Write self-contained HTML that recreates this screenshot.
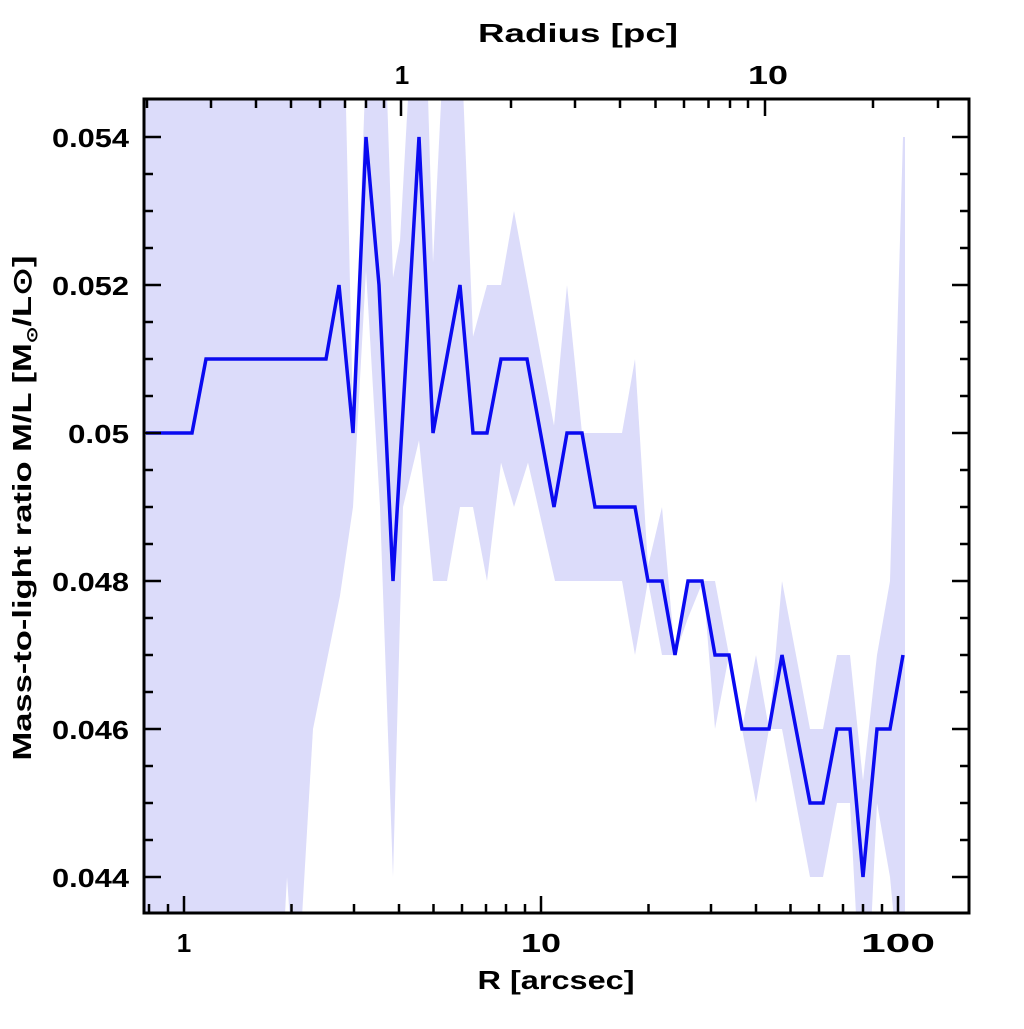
<!DOCTYPE html>
<html><head><style>
body{margin:0;background:#fff;}
svg text{font-family:"Liberation Sans",sans-serif;font-weight:bold;fill:#000;}
</style></head><body>
<svg width="1024" height="1024" viewBox="0 0 1024 1024" xmlns="http://www.w3.org/2000/svg">
<defs><clipPath id="c"><rect x="144" y="99" width="825" height="814"/></clipPath></defs>
<g clip-path="url(#c)">
<g transform="matrix(1 0 0 -7.4 0 4133)">
<polygon fill="#dcdcfa" points="
143,550 345,550 353,502 366,550 386,550 393,521 400,526 410,550 427,550 433,523 443,550 462,550 473,513 487,520 501,520 514,530 554,501 567,520 582,500 622,500 635,510 648,482 662,490 675,470 688,480 715,480 729,470 742,460 756,470 769,460 782,480 810,460 823,460 837,470 850,470 863,453 877,470 890,480 903,540 905,540 905,430
903,430 897,430 890,440 877,450 870,430 858,430 850,450 837,450 823,440 810,440 782,460 769,460 756,450 742,460 729,470 715,460 703,480 688,475 675,470 662,470 648,480 635,470 622,480 595,480 568,480 555,480 528,496 514,490 501,496 487,480 473,490 460,490 447,480 433,480 419,499 403,490 393,440 380,490 366,522 353,490 340,478 313,460 300,430 292,430 287,440 283,430 143,430"/>
<polyline fill="none" stroke="#0a0af0" stroke-width="3.5" vector-effect="non-scaling-stroke" stroke-linejoin="miter" points="
146,500 192,500 206,510 326,510 339,520 353,500 366,540 379,520 393,480 419,540 433,500 460,520 473,500 487,500 501,510 527,510 554,490 567,500 582,500 595,490 635,490 648,480 662,480 675,470 688,480 702,480 715,470 729,470 742,460 769,460 782,470 810,450 823,450 837,460 850,460 863,440 877,460 890,460 903,470"/>
</g>
</g>
<rect x="144" y="99" width="825" height="814" fill="none" stroke="#000" stroke-width="3"/>
<g stroke="#000" stroke-width="2.5">
<path d="M144 877h17M144 729h17M144 581h17M144 433h17M144 285h17M144 137h17M969 877h-17M969 729h-17M969 581h-17M969 433h-17M969 285h-17M969 137h-17"/>
<path d="M144 840h9M144 803h9M144 766h9M144 692h9M144 655h9M144 618h9M144 544h9M144 507h9M144 470h9M144 396h9M144 359h9M144 322h9M144 248h9M144 211h9M144 174h9
M969 840h-9M969 803h-9M969 766h-9M969 692h-9M969 655h-9M969 618h-9M969 544h-9M969 507h-9M969 470h-9M969 396h-9M969 359h-9M969 322h-9M969 248h-9M969 211h-9M969 174h-9"/>
<path d="M184 913v-17M541 913v-17M898 913v-17
M149 913v-9M168 913v-9M291.5 913v-9M354 913v-9M399 913v-9M433.5 913v-9M462 913v-9M486 913v-9M506 913v-9M525 913v-9
M648.5 913v-9M711 913v-9M756 913v-9M790.5 913v-9M819 913v-9M843 913v-9M863 913v-9M882 913v-9"/>
<path d="M401 99v17M765 99v17
M147 99v9M211 99v9M256 99v9M291 99v9M320 99v9M345 99v9M366 99v9M384 99v9
M511 99v9M575 99v9M620 99v9M655.5 99v9M684 99v9M708.5 99v9M730 99v9M748 99v9M873 99v9M938 99v9"/>
</g>
<g font-size="26" text-anchor="end" lengthAdjust="spacingAndGlyphs">
<text x="129" y="147" textLength="77" lengthAdjust="spacingAndGlyphs">0.054</text>
<text x="129" y="295" textLength="77" lengthAdjust="spacingAndGlyphs">0.052</text>
<text x="129" y="443" textLength="61" lengthAdjust="spacingAndGlyphs">0.05</text>
<text x="129" y="591" textLength="77" lengthAdjust="spacingAndGlyphs">0.048</text>
<text x="129" y="739" textLength="77" lengthAdjust="spacingAndGlyphs">0.046</text>
<text x="129" y="887" textLength="77" lengthAdjust="spacingAndGlyphs">0.044</text>
</g>
<g font-size="26" text-anchor="middle">
<text x="184" y="952">1</text>
<text x="541" y="952" textLength="40" lengthAdjust="spacingAndGlyphs">10</text>
<text x="898" y="952" textLength="74" lengthAdjust="spacingAndGlyphs">100</text>
<text x="402" y="84">1</text>
<text x="768" y="84" textLength="40" lengthAdjust="spacingAndGlyphs">10</text>
<text x="556" y="989" textLength="157" lengthAdjust="spacingAndGlyphs">R [arcsec]</text>
<text x="578" y="42" textLength="200" lengthAdjust="spacingAndGlyphs">Radius [pc]</text>
<text transform="translate(31 508) rotate(-90)" textLength="505" lengthAdjust="spacingAndGlyphs">Mass-to-light ratio M/L [M<tspan font-size="15" dy="6">⊙</tspan><tspan dy="-6">/L⊙]</tspan></text>
</g>
</svg>
</body></html>
